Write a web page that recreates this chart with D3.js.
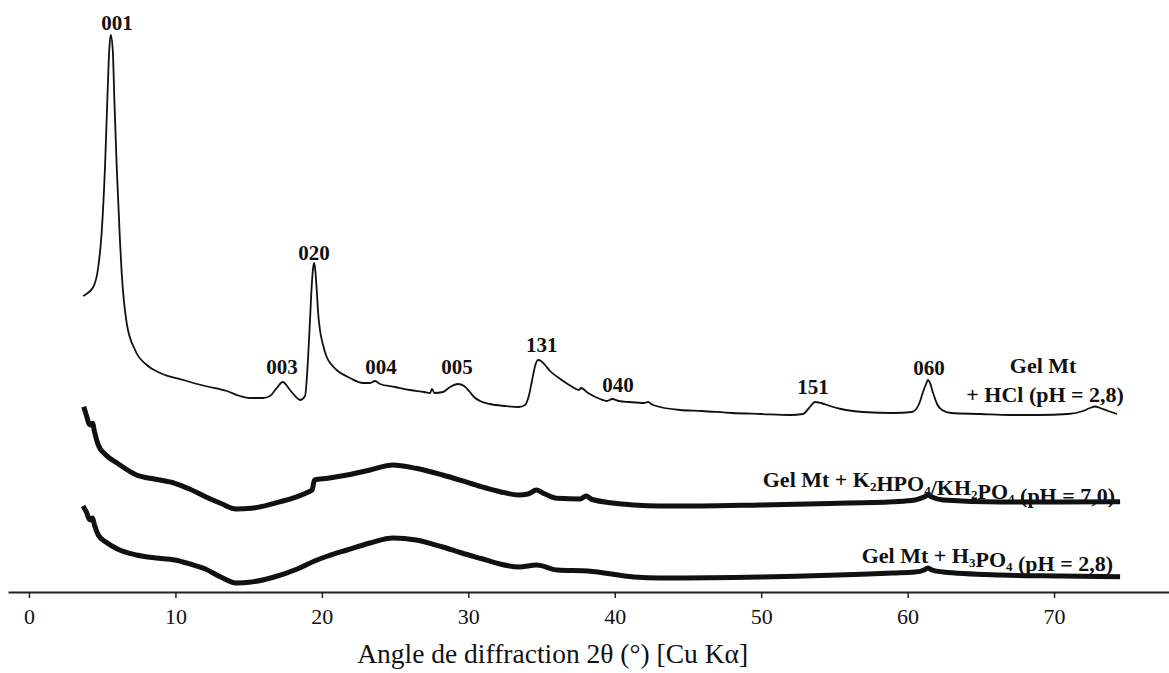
<!DOCTYPE html>
<html>
<head>
<meta charset="utf-8">
<script src="https://cdn.jsdelivr.net/npm/d3@7"></script>
<style>
  html, body { margin: 0; padding: 0; background: #fff; }
  svg { display: block; }
  text { font-family: "Liberation Serif", "Times New Roman", serif; fill: #111; }
</style>
</head>
<body>
<svg id="chart" width="1169" height="673"></svg>
<script>
// ---- Data (2θ in degrees, intensity in arbitrary units) ----
const hclTheta = [3.69,3.82,4.39,4.73,4.96,5.19,5.35,5.48,5.58,5.72,5.83,5.99,6.21,6.33,6.67,7.24,8.04,8.95,10.52,12.02,13.52,14.41,15.09,15.98,16.46,16.92,17.33,17.82,18.17,18.51,18.85,19.05,19.19,19.31,19.40,19.48,19.56,19.65,19.74,19.87,20.08,20.33,20.62,21.01,21.92,22.81,23.29,23.63,23.97,25.00,26.02,26.98,27.39,27.52,27.69,28.27,28.75,29.30,29.71,30.05,30.39,30.80,31.48,32.51,33.46,33.87,34.15,34.36,34.56,34.76,34.97,35.24,35.58,36.19,37.01,37.56,37.70,38.18,39.00,39.47,39.83,40.29,40.98,42.00,42.28,42.61,44.46,45.96,48.01,49.99,51.97,52.86,53.27,53.68,54.09,54.70,55.45,56.96,59.00,60.30,60.78,61.05,61.26,61.39,61.53,61.74,62.01,62.35,62.97,64.95,66.99,68.97,70.95,71.98,72.46,72.80,73.14,73.69,74.30];
const hclI =     [296,297,305,325,359,425,492,542,557,542,492,425,352,319,269,242,227,219,212,206,201,196,194,194,196,204,210,202,196,192,196,232,272,307,324,329,320,302,280,262,247,235,228,222,214,209,209,211,208,205,202,200,199,203,199,200,205,208,206,201,195,191,188,186,185,187,197,212,226,232,231,227,221,214,206,202,204,199,193,191,193,191,190,189,190,187,182,181,179,178,177,178,184,190,189,186,183,180,179,180,188,200,208,212,209,199,188,182,179,178,177,177,178,181,184,185.5,184,181,178];

const kTheta = [3.74,3.95,4.10,4.21,4.34,4.47,4.73,5.25,6.04,7.34,8.65,9.96,11.00,12.05,13.09,14.14,15.19,16.75,18.32,19.11,19.33,19.50,20.41,21.72,23.29,24.86,26.43,28.25,29.56,30.87,32.17,33.46,34.07,34.66,35.24,36.09,37.63,38.04,38.45,41.32,43.09,45.82,49.92,54.70,59.00,60.51,61.12,61.39,61.66,62.42,66.31,70.41,74.51];
const kI =     [185.3,175.3,168,167,168.7,160.3,147,137,128.7,117,112.7,108.7,102.7,95.3,88.7,83,83.7,88.7,95.3,100.3,102,112,113.7,117,122,127,123.7,117,111.3,105.3,100.3,97,98,102,98,93.7,93,96,92.5,87,86,86,87,88.5,90.3,92,95,97,95,92,90,90,90.3];

const hTheta = [3.69,3.95,4.10,4.21,4.34,4.47,4.73,5.25,6.04,7.34,8.65,9.96,11.00,12.05,13.09,14.14,15.19,16.75,18.32,19.50,20.41,21.72,23.29,24.86,26.43,28.25,29.56,30.87,32.17,33.46,34.66,36.09,38.18,41.32,43.09,49.92,59.00,60.51,61.12,61.39,61.66,62.42,66.31,70.41,74.51];
const hI =     [86,79,73,72,74,67,57,50,43,37,34,32,28,23,15,9,10,15,23,31,36,42,49,54,52,45,39,33.5,28,25,27,22,21,15,14,15,19,20,22,24,22,20,17,16,15.3];

const peakNames = ["001","003","020","004","005","131","040","151","060"];
const peakTheta = [6.01,17.28,19.46,24.04,29.23,35.01,40.22,53.54,61.46];
const peakLabelI = [562,218,332.5,218,218,240,200,198,217];

const tickValues = [0,10,20,30,40,50,60,70];
const xTitle = "Angle de diffraction 2θ (°) [Cu Kα]";

// ---- Scales ----
const svg = d3.select("#chart");
const x = d3.scaleLinear().domain([-1.434, 77.85]).range([8, 1169]);
const y = d3.scaleLinear().domain([0, 560]).range([592, 32]);

const line = d3.line().x(d => x(d[0])).y(d => y(d[1])).curve(d3.curveMonotoneX);

// ---- Axis ----
const axis = d3.axisBottom(x).tickValues(tickValues).tickSizeInner(6).tickSizeOuter(0).tickPadding(10).tickFormat(d3.format("d"));
const gAxis = svg.append("g").attr("transform", `translate(0,${y(0)})`).call(axis);
gAxis.select(".domain").attr("stroke", "#222").attr("stroke-width", 2);
gAxis.selectAll(".tick line").attr("stroke", "#222").attr("stroke-width", 1.5);
gAxis.selectAll(".tick text").attr("font-size", 22).attr("font-family", "Liberation Serif").attr("fill", "#111");

svg.append("text")
  .attr("x", x(35.76)).attr("y", 663)
  .attr("text-anchor", "middle").attr("font-size", 27.5)
  .text(xTitle);

// ---- Curves ----
const series = [
  { t: hclTheta, v: hclI, w: 1.8 },
  { t: kTheta, v: kI, w: 5 },
  { t: hTheta, v: hI, w: 5 }
];
series.forEach(s => {
  svg.append("path")
    .datum(s.t.map((t, i) => [t, s.v[i]]))
    .attr("fill", "none").attr("stroke", "#111")
    .attr("stroke-width", s.w).attr("stroke-linejoin", "round")
    .attr("d", line);
});

// ---- Peak labels ----
peakNames.forEach((n, i) => {
  svg.append("text")
    .attr("x", x(peakTheta[i])).attr("y", y(peakLabelI[i]))
    .attr("text-anchor", "middle").attr("font-size", 21).attr("font-weight", "bold")
    .text(n);
});

// ---- Sample labels ----
function richText(xPos, yPos, anchor, parts) {
  const t = svg.append("text").attr("x", xPos).attr("y", yPos)
    .attr("text-anchor", anchor).attr("font-size", 22).attr("font-weight", "bold");
  parts.forEach(p => {
    if (typeof p === "string") {
      t.append("tspan").text(p);
    } else {
      t.append("tspan").attr("font-size", 13).attr("dy", 4).text(p.sub);
      t.append("tspan").attr("dy", -4).text("");
    }
  });
  return t;
}
richText(x(69.25), y(219.5), "middle", ["Gel Mt"]);
richText(x(69.39), y(190), "middle", ["+ HCl (pH = 2,8)"]);
richText(x(74.17), y(105), "end", ["Gel Mt + K", {sub:"2"}, "HPO", {sub:"4"}, "/KH", {sub:"2"}, "PO", {sub:"4"}, " (pH = 7,0)"]);
richText(x(74.03), y(29), "end", ["Gel Mt + H", {sub:"3"}, "PO", {sub:"4"}, " (pH = 2,8)"]);
</script>
</body>
</html>
